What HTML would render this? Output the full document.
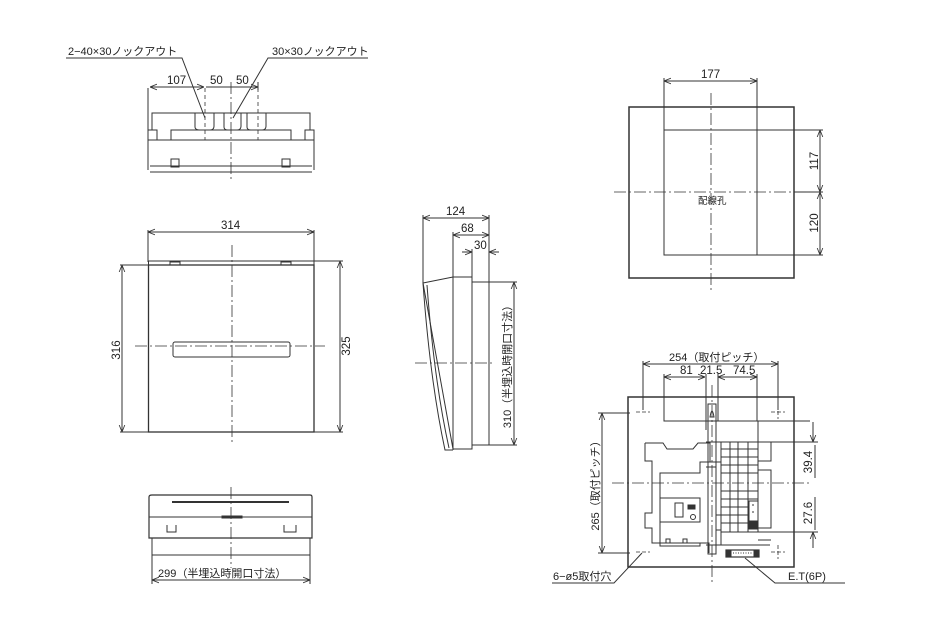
<!DOCTYPE html>
<html><head><meta charset="utf-8"><style>
html,body{margin:0;padding:0;background:#fff}
svg{display:block}
text{font-family:"Liberation Sans","Noto Sans CJK JP",sans-serif;fill:#222}
</style></head><body>
<svg width="936" height="639" viewBox="0 0 936 639" xmlns="http://www.w3.org/2000/svg">
<defs>
<marker id="a" viewBox="0 0 10 10" refX="10" refY="5" markerWidth="7" markerHeight="7" orient="auto-start-reverse"><path d="M0,1 L10,5 L0,9" fill="none" stroke="#333" stroke-width="1.2"/></marker>
</defs>
<g stroke="#333" stroke-width="1" fill="none">
<g stroke-dasharray="12,3,2,3" stroke-width="0.8"><line x1="231" y1="82" x2="231" y2="180"/></g>
<g stroke-dasharray="4,3" stroke-width="0.8"><line x1="205" y1="88" x2="205" y2="140"/><line x1="258" y1="88" x2="258" y2="140"/></g>
<path d="M152,130 V113 H310 V130"/>
<path d="M148,170 V130 H157 V140 H171 V130 H291 V140 H305 V130 H314 V170"/>
<path d="M148,140 H314"/>
<path d="M150,166 H312 M150,172 H312"/>
<path d="M195,113 V127 Q195,130 200,130 H210 Q214,130 214,126 V113"/>
<path d="M224,113 V127 Q224,130 228,130 H237 Q241,130 241,126 V113"/>
<path d="M247,113 V127 Q247,130 251,130 H262 Q266,130 266,126 V113"/>
<rect x="171" y="159" width="8" height="8"/><rect x="282" y="159" width="8" height="8"/>
<line x1="148" y1="88" x2="148" y2="130"/><line x1="258" y1="82" x2="258" y2="90"/>
<line x1="150" y1="87" x2="204" y2="87" marker-start="url(#a)" marker-end="url(#a)"/>
<line x1="206" y1="87" x2="258" y2="87" marker-end="url(#a)"/>
<polyline points="66,58 182,58 205,118"/>
<polyline points="368,58 268,58 233,118"/>
<line x1="148" y1="232" x2="314" y2="232" marker-start="url(#a)" marker-end="url(#a)"/>
<line x1="148" y1="230" x2="148" y2="262"/><line x1="314" y1="230" x2="314" y2="262"/>
<rect x="148.5" y="265" width="165.5" height="167" stroke-width="1.3"/>
<path d="M148.5,265 V261 H314 V265"/>
<path d="M170,265 V262 H180 V265 M281,265 V262 H291 V265"/>
<rect x="173" y="342" width="117" height="15" rx="2"/>
<g stroke-dasharray="12,3,2,3" stroke-width="0.8"><line x1="232" y1="245" x2="232" y2="445"/><line x1="135" y1="346" x2="325" y2="346"/></g>
<line x1="122" y1="265" x2="122" y2="432" marker-start="url(#a)" marker-end="url(#a)"/>
<line x1="120" y1="265" x2="148" y2="265"/><line x1="120" y1="432" x2="148" y2="432"/>
<line x1="340" y1="261" x2="340" y2="432" marker-start="url(#a)" marker-end="url(#a)"/>
<line x1="314" y1="261" x2="343" y2="261"/><line x1="314" y1="432" x2="343" y2="432"/>
<path d="M149,538 V497 Q149,495 152,495 H310 Q312,495 312,497 V538 Z" stroke-width="1.2"/>
<line x1="149" y1="517" x2="312" y2="517"/>
<rect x="222" y="516" width="20" height="2" fill="#333"/>
<line x1="172" y1="502" x2="289" y2="502" stroke-width="2"/>
<path d="M167,525 V532 H176 V525 M284,525 V532 H296 V525"/>
<path d="M152,538 V560 M310,538 V560 M152,555 H310"/>
<line x1="152" y1="580" x2="310" y2="580" marker-start="url(#a)" marker-end="url(#a)"/>
<line x1="152" y1="558" x2="152" y2="584"/><line x1="310" y1="558" x2="310" y2="584"/>
<g stroke-dasharray="12,3,2,3" stroke-width="0.8"><line x1="231" y1="487" x2="231" y2="568"/></g>
<path d="M423,283 Q430,380 445,450 L453,450"/>
<path d="M427,285 Q434,380 449,448"/>
<path d="M423,283 L453,277 H472 V449 H453 Z" />
<line x1="453" y1="277" x2="453" y2="450"/>
<path d="M472,282 H489 V445 H472"/>
<line x1="423" y1="218" x2="489" y2="218" marker-start="url(#a)" marker-end="url(#a)"/>
<line x1="423" y1="215" x2="423" y2="283"/><line x1="489" y1="215" x2="489" y2="282"/>
<line x1="453" y1="235" x2="489" y2="235" marker-start="url(#a)" marker-end="url(#a)"/>
<line x1="453" y1="232" x2="453" y2="277"/>
<line x1="462" y1="252" x2="472" y2="252" marker-end="url(#a)"/><line x1="499" y1="252" x2="489" y2="252" marker-end="url(#a)"/>
<line x1="472" y1="249" x2="472" y2="277"/>
<line x1="489" y1="282" x2="517" y2="282"/><line x1="489" y1="445" x2="517" y2="445"/>
<line x1="514" y1="282" x2="514" y2="445" marker-start="url(#a)" marker-end="url(#a)"/>
<g stroke-dasharray="12,3,2,3" stroke-width="0.8"><line x1="415" y1="363" x2="495" y2="363"/></g>
<rect x="629" y="107" width="165" height="171" stroke-width="1.5"/>
<path d="M664,130 H757 V255 H664 Z"/>
<line x1="664" y1="78" x2="664" y2="130"/><line x1="757" y1="78" x2="757" y2="130"/>
<line x1="664" y1="81" x2="757" y2="81" marker-start="url(#a)" marker-end="url(#a)"/>
<line x1="757" y1="130" x2="823" y2="130"/><line x1="757" y1="255" x2="823" y2="255"/><line x1="794" y1="192" x2="823" y2="192"/>
<line x1="820" y1="130" x2="820" y2="192" marker-start="url(#a)" marker-end="url(#a)"/>
<line x1="820" y1="192" x2="820" y2="255" marker-start="url(#a)" marker-end="url(#a)"/>
<g stroke-dasharray="12,3,2,3" stroke-width="0.8"><line x1="711" y1="93" x2="711" y2="290"/><line x1="614" y1="192" x2="810" y2="192"/></g>
<rect x="628" y="397" width="166" height="170" stroke-width="1.5"/>
<g stroke-dasharray="12,3,2,3" stroke-width="0.8"><line x1="712" y1="385" x2="712" y2="583"/><line x1="612" y1="483" x2="810" y2="483"/></g>
<g stroke-width="0.8" stroke-dasharray="4,2"><line x1="636" y1="412" x2="650" y2="412"/><line x1="771" y1="412" x2="785" y2="412"/><line x1="636" y1="552" x2="650" y2="552"/><line x1="771" y1="552" x2="785" y2="552"/><line x1="778" y1="405" x2="778" y2="419"/><line x1="778" y1="545" x2="778" y2="559"/></g>
<line x1="643" y1="364" x2="778" y2="364" marker-start="url(#a)" marker-end="url(#a)"/>
<line x1="643" y1="361" x2="643" y2="410"/><line x1="778" y1="361" x2="778" y2="410"/>
<line x1="664" y1="377" x2="705" y2="377" marker-start="url(#a)" marker-end="url(#a)"/>
<line x1="718" y1="377" x2="757" y2="377" marker-start="url(#a)" marker-end="url(#a)"/>
<line x1="664" y1="374" x2="664" y2="421"/><line x1="706" y1="374" x2="706" y2="430"/><line x1="718" y1="374" x2="718" y2="421"/><line x1="757" y1="374" x2="757" y2="421"/>
<line x1="602" y1="413" x2="602" y2="553" marker-start="url(#a)" marker-end="url(#a)"/>
<line x1="598" y1="413" x2="630" y2="413"/><line x1="598" y1="553" x2="630" y2="553"/>
<path d="M664,400 V421 H718 M718,421 H810 M664,421 H706"/>
<path d="M645,443 H663 L667,449 H693 L698,443 H710 V462 H700 V473 H660 V543 H693 M693,543 H709 V553 M645,443 V461 H652 V513 H645 V528 H652 V543 H660"/>
<rect x="660" y="498" width="40" height="24"/>
<rect x="675" y="503" width="8" height="14"/><rect x="688" y="505" width="7" height="4" fill="#333"/><circle cx="693" cy="517" r="2.5"/>
<path d="M666,543 V539 H670 V543 M683,543 V539 H687 V543 M660,543 V546 H700 V543"/>
<rect x="708" y="404" width="8" height="150"/>
<path d="M710,417 Q712,405 714,417 Z"/>
<path d="M703,462 H721 V545 M706,467 H716 V545 M708,482 V540 M716,515 H721 M716,530 H721"/>
<path d="M721,442 H758 V532 H721 Z"/>
<path d="M730,442 V532 M738,442 V532 M748,442 V532"/>
<path d="M721,449 H758 M721,457 H758 M721,465 H758 M721,473 H758 M721,491 H758 M721,499 H758 M721,507 H758 M721,515 H758 M721,523 H758"/>
<path d="M758,442 H771 V461 H758 M758,470 H771 V528 H758 M758,540 H771"/>
<rect x="749" y="501" width="9" height="28" fill="#fff"/><rect x="750" y="521" width="7" height="8" fill="#333"/>
<path d="M752,505 h2 M752,512 h2"/>
<path d="M758,442 V421 M758,532 H810 M706,442 H758 M706,545 H770"/>
<rect x="726" y="550" width="33" height="7" fill="#fff" stroke-width="1.2"/>
<rect x="726" y="550" width="5" height="7" fill="#333"/><rect x="754" y="550" width="5" height="7" fill="#333"/>
<line x1="733" y1="553" x2="752" y2="553" stroke-dasharray="1,1.5"/>
<line x1="758" y1="442" x2="818" y2="442"/><line x1="758" y1="532" x2="818" y2="532"/>
<line x1="813" y1="422" x2="813" y2="442" marker-end="url(#a)"/>
<line x1="815" y1="445" x2="815" y2="478"/>
<line x1="815" y1="497" x2="815" y2="530"/>
<line x1="813" y1="548" x2="813" y2="532" marker-end="url(#a)"/>
<polyline points="552,583 614,583 642,553"/>
<polyline points="845,583 775,583 745,558"/>
</g>
<g font-size="11">
<text x="68" y="55" font-size="11">2−40×30ノックアウト</text>
<text x="272" y="55" font-size="11">30×30ノックアウト</text>
<text x="167" y="84" font-size="11.5">107</text>
<text x="210" y="84" font-size="11.5">50</text>
<text x="236" y="84" font-size="11.5">50</text>
<text x="221" y="229" font-size="11.5">314</text>
<text transform="translate(120,350) rotate(-90)" text-anchor="middle" font-size="11.5">316</text>
<text transform="translate(350,346) rotate(-90)" text-anchor="middle" font-size="11.5">325</text>
<text x="158" y="577" font-size="11">299（半埋込時開口寸法）</text>
<text x="446" y="215" font-size="11.5">124</text>
<text x="461" y="232" font-size="11.5">68</text>
<text x="474" y="249" font-size="11.5">30</text>
<text transform="translate(511,364) rotate(-90)" text-anchor="middle" font-size="11">310（半埋込時開口寸法）</text>
<text x="701" y="78" font-size="11.5">177</text>
<text x="698" y="204" font-size="9.5">配線孔</text>
<text transform="translate(818,161) rotate(-90)" text-anchor="middle" font-size="11.5">117</text>
<text transform="translate(818,223) rotate(-90)" text-anchor="middle" font-size="11.5">120</text>
<text x="669" y="361" font-size="11">254（取付ピッチ）</text>
<text x="680" y="374" font-size="11.5">81</text>
<text x="700" y="374" font-size="11.5">21.5</text>
<text x="733" y="374" font-size="11.5">74.5</text>
<text transform="translate(599,483) rotate(-90)" text-anchor="middle" font-size="11">265（取付ピッチ）</text>
<text transform="translate(812,462) rotate(-90)" text-anchor="middle" font-size="11.5">39.4</text>
<text transform="translate(812,513) rotate(-90)" text-anchor="middle" font-size="11.5">27.6</text>
<text x="553" y="580" font-size="11">6−ø5取付穴</text>
<text x="788" y="580" font-size="11">E.T(6P)</text>
</g>
</svg>
</body></html>
